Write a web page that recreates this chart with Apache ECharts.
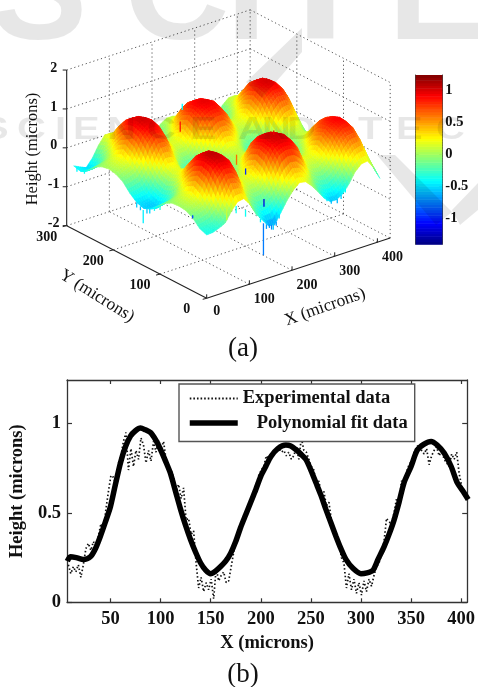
<!DOCTYPE html>
<html><head><meta charset="utf-8">
<style>html,body{margin:0;padding:0;background:#fff}#c{width:478px;height:687px}#c canvas{filter:blur(.4px)}</style>
<script src="https://cdn.jsdelivr.net/npm/echarts@6/dist/echarts.min.js"></script>
</head><body><div id="c"></div>
<script>
// ---------- surface (a): heights in microns, rows by Y, columns by X ----------
const xGrid=[0,14.5,29,43.5,58,72.5,87,101.5,116,130.5,145,159.5,174,188.5,203,217.5,232,246.5,261,275.5,290,304.5,319,333.5,348,362.5,377,391.5,406];
const yGrid=[0,15,30,45,60,75,90,105,120,135,150,165,180,195,210,225,240,255,270,285];
const heightRows=[
[-.37,-.36,-.30,-.22,.03,.22,.25,.05,-.25,-.46,-.66,-.68,-.42,-.16,.05,.19,.16,.00,-.20,-.42,-.56,-.56,-.46,-.26,.00,.15,.17,-.05,-.38],
[-.30,-.28,-.24,-.05,.26,.59,.55,.29,-.06,-.23,-.38,-.34,-.20,.05,.30,.46,.42,.22,.01,-.23,-.34,-.37,-.25,-.07,.25,.42,.47,.18,-.18],
[-.12,-.08,0,.20,.68,.86,.85,.69,.22,.01,-.12,-.10,.05,.42,.75,.83,.82,.70,.34,.03,-.10,-.13,-.01,.21,.53,.69,.71,.49,.08],
[-.02,.06,.16,.52,.89,1.02,1.01,.90,.52,.23,.08,.10,.30,.71,.93,1.00,.99,.90,.67,.26,.10,.07,.21,.47,.73,.84,.87,.70,.33],
[0,.10,.27,.62,.94,1.07,1.06,.94,.62,.32,.17,.20,.42,.78,.97,1.04,1.03,.95,.74,.35,.20,.18,.29,.61,.80,.90,.92,.77,.46],
[-.02,.06,.17,.49,.87,1.00,1.01,.88,.52,.21,.08,.08,.29,.70,.91,.98,.97,.89,.64,.26,.08,.09,.18,.50,.75,.84,.85,.72,.36],
[-.12,-.08,0,.22,.65,.83,.85,.65,.21,.01,-.14,-.10,.06,.36,.71,.81,.78,.67,.30,.03,-.11,-.11,-.03,.21,.56,.70,.73,.49,.12],
[-.28,-.28,-.24,-.06,.27,.55,.57,.26,-.06,-.25,-.36,-.36,-.18,.03,.30,.42,.46,.22,.01,-.21,-.36,-.35,-.27,-.05,.22,.44,.44,.18,-.08],
[-.45,-.48,-.44,-.26,.04,.25,.27,.03,-.24,-.45,-.56,-.56,-.38,-.17,.06,.15,.17,.00,-.19,-.43,-.54,-.57,-.45,-.27,.02,.15,.18,-.03,-.28],
[-.53,-.56,-.54,-.33,-.05,.16,.17,-.04,-.32,-.52,-.65,-.62,-.47,-.24,-.03,.07,.08,-.07,-.28,-.50,-.62,-.64,-.54,-.33,-.07,.07,.08,-.11,-.36],
[-.47,-.50,-.46,-.24,.03,.27,.25,.05,-.26,-.44,-.57,-.55,-.39,-.16,.05,.17,.15,.02,-.20,-.42,-.56,-.55,-.46,-.26,.01,.17,.16,-.02,-.28],
[-.32,-.30,-.26,-.04,.27,.57,.56,.29,-.05,-.25,-.36,-.35,-.20,.05,.29,.46,.44,.23,0,-.23,-.35,-.37,-.25,-.06,.25,.42,.47,.20,-.08],
[-.12,-.08,0,.22,.65,.83,.82,.65,.22,0,-.13,-.10,.06,.34,.66,.75,.76,.60,.29,.03,-.11,-.12,-.02,.21,.59,.75,.75,.55,.17],
[-.02,.08,.17,.50,.83,.96,.96,.84,.50,.23,.08,.09,.29,.62,.83,.91,.91,.80,.57,.26,.08,.08,.20,.49,.80,.90,.91,.76,.46],
[.02,.12,.29,.61,.90,1.03,1.02,.91,.62,.33,.16,.18,.41,.72,.90,.96,.96,.87,.67,.36,.18,.17,.30,.60,.86,.95,.95,.83,.57],
[-.02,.06,.18,.50,.85,.97,.96,.83,.52,.22,.07,.09,.29,.62,.85,.90,.90,.79,.57,.25,.09,.08,.20,.49,.80,.90,.90,.76,.47],
[-.12,-.08,-.02,.21,.64,.82,.82,.65,.21,.00,-.13,-.11,.05,.33,.65,.75,.74,.59,.27,.02,-.11,-.12,-.02,.20,.59,.74,.75,.55,.18],
[-.30,-.30,-.26,-.05,.29,.57,.57,.27,-.05,-.24,-.37,-.35,-.19,.04,.29,.44,.44,.23,0,-.22,-.35,-.36,-.26,-.06,.24,.44,.46,.20,-.07],
[-.42,-.46,-.45,-.25,.03,.26,.26,.04,-.25,-.44,-.57,-.55,-.39,-.16,.05,.16,.16,.01,-.20,-.42,-.55,-.56,-.46,-.26,.01,.16,.17,-.02,-.27],
[-.37,-.45,-.52,-.33,-.05,.16,.16,-.04,-.33,-.52,-.65,-.63,-.47,-.24,-.03,.07,.07,-.07,-.28,-.50,-.63,-.64,-.54,-.34,-.07,.07,.08,-.10,-.35]
];
// measurement spikes: position, height span, and colour value
const spikeX=[133,156,0,260,299,141,125,249,0,69,91,47,118,126,140,147,152,163,170,282,292,306,315,325,0,0,0,0,0,0,0,0,225,370];
const spikeY=[0,0,136,115,190,65,171,280,30,0,0,0,0,0,0,0,0,0,0,0,0,0,0,0,100,112,122,128,142,150,262,278,62,210];
const spikeTop=[-.55,-.63,-.58,-1.1,-.92,.78,1.03,.36,-.05,.125,-.055,.1,-.2,-.4,-.6,-.62,-.66,-.62,-.45,-.42,-.52,-.55,-.48,-.35,-.25,-.35,-.46,-.5,-.52,-.48,-.33,-.38,1.12,1.02];
const spikeBottom=[-1.37,-.8,-.92,-1.3,-1.08,.52,.77,.20,-.13,-.06,-.23,-.16,-.3,-.5,-.72,-.72,-.78,-.72,-.56,-.52,-.62,-.66,-.58,-.45,-.35,-.45,-.58,-.62,-.62,-.6,-.43,-.48,1.0,.9];
const spikeShade=[-.75,-.55,-.45,-1.15,-.95,.62,.85,-.42,-.9,-.38,-.38,.1,-.25,-.45,-.65,-.67,-.72,-.67,-.5,-.47,-.57,-.6,-.53,-.4,-.3,-.4,-.52,-.56,-.57,-.54,-.38,-.43,.95,.95];
const xTicks3D=[0,100,200,300,400];
const yTicks3D=[0,100,200,300];
const zTicks3D=[-2,-1,0,1,2];
const colorbarTicks=[-1,-.5,0,.5,1];
// ---------- profile (b) ----------
const xTicksB=[50,100,150,200,250,300,350,400];
const yTicksB=[0,.5,1];
const fitX=[7,10,16,23,30,35,40,45,50,55,60,65,70,75,80,85,90,95,100,105,110,115,120,125,130,135,140,145,150,155,160,165,170,175,180,185,190,195,200,205,210,217,225,230,235,240,245,250,255,260,265,270,275,280,285,292,300,306,312,317,323,328,333,338,343,350,356,363,370,376,383,390,396,402,407];
const fitY=[.23,.255,.25,.24,.255,.30,.37,.45,.535,.66,.78,.87,.93,.96,.975,.965,.95,.91,.855,.79,.72,.62,.52,.43,.35,.28,.22,.18,.16,.175,.20,.23,.275,.34,.42,.49,.56,.63,.705,.76,.815,.86,.88,.875,.855,.83,.80,.74,.67,.60,.52,.445,.37,.30,.24,.19,.16,.165,.18,.24,.31,.38,.46,.56,.67,.76,.85,.885,.90,.88,.835,.76,.67,.62,.575];
const expX=[8,10.5,13,15.5,18,20.5,23,25.5,28,30.5,33,35.5,38,40.5,43,45.5,48,50.5,53,55.5,58,60.5,63,65.5,68,70.5,73,75.5,78,80.5,83,85.5,88,90.5,93,95.5,98,100.5,103,105.5,108,110.5,113,115.5,118,120.5,123,125.5,128,130.5,133,135.5,138,140.5,143,145.5,148,150.5,153,155.5,158,160.5,163,165.5,168,170.5,173,175.5,178,180.5,183,185.5,188,190.5,193,195.5,198,200.5,203,205.5,208,210.5,213,215.5,218,220.5,223,225.5,228,230.5,233,235.5,238,240.5,243,245.5,248,250.5,253,255.5,258,260.5,263,265.5,268,270.5,273,275.5,278,280.5,283,285.5,288,290.5,293,295.5,298,300.5,303,305.5,308,310.5,313,315.5,318,320.5,323,325.5,328,330.5,333,335.5,338,340.5,343,345.5,348,350.5,353,355.5,358,360.5,363,365.5,368,370.5,373,375.5,378,380.5,383,385.5,388,390.5,393,395.5,398,400.5,403,405.5];
const expY=[.21,.16,.20,.17,.21,.14,.21,.30,.33,.29,.34,.31,.37,.44,.40,.52,.62,.71,.70,.66,.78,.82,.90,.95,.74,.86,.76,.85,.80,.92,.88,.78,.85,.79,.90,.84,.91,.86,.90,.80,.76,.74,.70,.62,.66,.58,.64,.46,.47,.38,.40,.22,.08,.14,.06,.11,.07,.13,.02,.19,.12,.15,.17,.11,.12,.20,.28,.33,.37,.44,.46,.50,.55,.58,.62,.66,.71,.74,.76,.82,.80,.84,.83,.85,.86,.84,.85,.82,.84,.80,.82,.87,.80,.92,.85,.84,.80,.76,.74,.65,.68,.60,.62,.54,.56,.46,.41,.36,.33,.25,.22,.08,.16,.07,.13,.05,.11,.04,.12,.06,.13,.09,.15,.20,.22,.27,.34,.47,.45,.44,.50,.58,.55,.68,.66,.73,.77,.79,.84,.87,.88,.85,.83,.86,.77,.82,.85,.87,.82,.85,.80,.78,.76,.83,.80,.84,.72,.65,.62,.60];

// ---------- view ----------
const VIEW={ox:206.7,oy:298.3,xu:.4267,xv:-.14,yu:-.4667,yv:-.2422,zv:-38.9,zFloor:-2,xMax:430,yMax:300,zMax:2};
function project(x,y,z){return [VIEW.ox+VIEW.xu*x+VIEW.yu*y, VIEW.oy+VIEW.xv*x+VIEW.yv*y+VIEW.zv*(z-VIEW.zFloor)];}
const CMIN=-1.4,CMAX=1.23;
function jet(v){
  const t=Math.max(0,Math.min(1,(v-CMIN)/(CMAX-CMIN)));
  const c=f=>Math.round(255*Math.max(0,Math.min(1,f)));
  return 'rgb('+c(1.5-Math.abs(4*t-3))+','+c(1.5-Math.abs(4*t-2))+','+c(1.5-Math.abs(4*t-1))+')';
}
const SERIF='"Liberation Serif","Times New Roman",serif';

// cells, back to front
const cells=[];
for(let j=yGrid.length-2;j>=0;j--)for(let i=xGrid.length-2;i>=0;i--)cells.push([i,j]);
const SUB=3;
function renderCell(params,api){
  const i=api.value(0),j=api.value(1);
  const x0=xGrid[i],x1=xGrid[i+1],y0=yGrid[j],y1=yGrid[j+1];
  const a=heightRows[j][i],b=heightRows[j][i+1],c=heightRows[j+1][i],d=heightRows[j+1][i+1];
  const P=(s,t)=>{const z=a*(1-s)*(1-t)+b*s*(1-t)+c*(1-s)*t+d*s*t;
    const p=project(x0+(x1-x0)*s,y0+(y1-y0)*t,z);return {xy:api.coord(p),z};};
  const children=[];
  for(let tt=SUB-1;tt>=0;tt--)for(let ss=SUB-1;ss>=0;ss--){
    const q=[P(ss/SUB,tt/SUB),P((ss+1)/SUB,tt/SUB),P((ss+1)/SUB,(tt+1)/SUB),P(ss/SUB,(tt+1)/SUB)];
    const col=jet((q[0].z+q[1].z+q[2].z+q[3].z)/4);
    children.push({type:'polygon',shape:{points:q.map(o=>o.xy)},style:{fill:col,stroke:col,lineWidth:.6}});
  }
  return {type:'group',children};
}
// box lines: [x1,y1,z1,x2,y2,z2,kind]
const XM=VIEW.xMax,YM=VIEW.yMax,ZF=VIEW.zFloor,ZM=VIEW.zMax;
const boxLines=[];
xTicks3D.forEach(x=>{ if(x>0){boxLines.push([x,0,ZF,x,YM,ZF,0]); boxLines.push([x,YM,ZF,x,YM,ZM,0]);} });
yTicks3D.forEach(y=>{ if(y>0&&y<YM){boxLines.push([0,y,ZF,XM,y,ZF,0]); boxLines.push([XM,y,ZF,XM,y,ZM,0]);} });
zTicks3D.forEach(z=>{ boxLines.push([0,YM,z,XM,YM,z,0]); boxLines.push([XM,YM,z,XM,0,z,0]); });
boxLines.push([XM,0,ZF,XM,0,ZM,0],[XM,YM,ZF,XM,YM,ZM,0]);
boxLines.push([0,0,ZF,XM,0,ZF,1],[0,0,ZF,0,YM,ZF,1],[0,YM,ZF,0,YM,ZM,1]);
function renderLine(params,api){
  const p=project(api.value(0),api.value(1),api.value(2)),q=project(api.value(3),api.value(4),api.value(5));
  const solid=api.value(6)===1, a=api.coord(p), b=api.coord(q);
  return {type:'line',shape:{x1:a[0],y1:a[1],x2:b[0],y2:b[1]},
    style:solid?{stroke:'#222',lineWidth:1.1}:{stroke:'#555',lineWidth:1,lineDash:[1.2,2.8]}};
}
// tick labels & marks in 3-D
const tick3D=[];
xTicks3D.forEach(v=>tick3D.push([v,0,ZF,String(v),v===0?10:15,v===0?13:15.5,0,-4]));
yTicks3D.forEach(v=>tick3D.push([0,v,ZF,String(v),-20,11.5,-4,1]));
zTicks3D.forEach(v=>tick3D.push([0,YM,v,String(v),-13,-2,-4,0]));
function renderTick(params,api){
  const c=api.coord(project(api.value(0),api.value(1),api.value(2)));
  return {type:'group',children:[
    {type:'line',shape:{x1:c[0],y1:c[1],x2:c[0]+api.value(6),y2:c[1]+api.value(7)},style:{stroke:'#222',lineWidth:1}},
    {type:'text',x:c[0]+api.value(4),y:c[1]+api.value(5),style:{text:tick3D[params.dataIndex][3],fill:'#111',font:'bold 14px '+SERIF,textAlign:'center',textVerticalAlign:'middle'}}
  ]};
}
function renderSpike(params,api){
  const i=params.dataIndex;
  const a=api.coord(project(spikeX[i],spikeY[i],spikeTop[i])),b=api.coord(project(spikeX[i],spikeY[i],spikeBottom[i]));
  return {type:'line',shape:{x1:a[0],y1:a[1],x2:b[0],y2:b[1]},style:{stroke:jet(spikeShade[i]),lineWidth:1.3}};
}
// colorbar
const cbSteps=[];for(let k=0;k<64;k++)cbSteps.push([k]);
function renderBar(params,api){
  const k=api.value(0),lo=CMIN+(CMAX-CMIN)*k/64,hi=CMIN+(CMAX-CMIN)*(k+1)/64;
  const a=api.coord([0,hi]),b=api.coord([1,lo]);
  return {type:'rect',shape:{x:a[0],y:a[1],width:b[0]-a[0],height:b[1]-a[1]+.5},style:{fill:jet((lo+hi)/2)}};
}
const labelB={color:'#111',fontFamily:SERIF,fontWeight:'bold',fontSize:18.5};
const WM='rgba(0,0,0,0.095)';
function wmText(t,x,y,size,sx){return {type:'text',x,y,z:100,scaleX:sx||1,silent:true,style:{text:t,fill:WM,font:'bold '+size+'px "Liberation Sans",Arial,sans-serif',textAlign:'left',textVerticalAlign:'bottom'}};}
const wmBand=[['S',-18],['C',17],['I',55],['E',73],['N',107],['C',147],['E',190],['A',238],['N',262],['D',287],['T',358],['E',396],['C',436]];
const option={
  animation:false,backgroundColor:'#fff',
  grid:[
    {left:0,top:0,width:478,height:687,show:false},
    {left:415.7,top:75,width:26.6,height:169.3,show:false},
    {left:62.5,top:380,width:409.8,height:222.3,show:false}
  ],
  xAxis:[
    {gridIndex:0,type:'value',min:0,max:478,show:false},
    {gridIndex:1,type:'value',min:0,max:1,show:false},
    {gridIndex:2,type:'value',min:6.7,max:406,position:'bottom',
      axisLine:{show:true,onZero:false,lineStyle:{color:'#333',width:1.3}},
      axisTick:{show:true,inside:true,length:4,customValues:xTicksB,lineStyle:{color:'#333',width:1.2}},
      axisLabel:{customValues:xTicksB,margin:7,hideOverlap:false,showMinLabel:true,showMaxLabel:true,...labelB},splitLine:{show:false},
      name:'X (microns)',nameLocation:'middle',nameGap:31,nameTextStyle:labelB},
    {gridIndex:2,type:'value',min:6.7,max:406,position:'top',
      axisLine:{show:true,onZero:false,lineStyle:{color:'#333',width:1.3}},
      axisTick:{show:true,inside:true,length:4,customValues:xTicksB,lineStyle:{color:'#333',width:1.2}},
      axisLabel:{show:false},splitLine:{show:false}}
  ],
  yAxis:[
    {gridIndex:0,type:'value',min:0,max:687,inverse:true,show:false},
    {gridIndex:1,type:'value',min:CMIN,max:CMAX,position:'right',
      axisLine:{show:true,onZero:false,lineStyle:{color:'#444',width:1}},
      axisTick:{show:true,inside:true,length:3,customValues:colorbarTicks,lineStyle:{color:'#222'}},
      axisLabel:{customValues:colorbarTicks,margin:3,color:'#111',fontFamily:SERIF,fontSize:14.5,fontWeight:'bold'},splitLine:{show:false}},
    {gridIndex:1,type:'value',min:CMIN,max:CMAX,position:'left',
      axisLine:{show:true,onZero:false,lineStyle:{color:'#444',width:1}},
      axisTick:{show:true,inside:true,length:3,customValues:colorbarTicks,lineStyle:{color:'#222'}},
      axisLabel:{show:false},splitLine:{show:false}},
    {gridIndex:2,type:'value',min:0,max:1.244,position:'left',
      axisLine:{show:true,onZero:false,lineStyle:{color:'#333',width:1.3}},
      axisTick:{show:true,inside:true,length:5,customValues:yTicksB,lineStyle:{color:'#333',width:1.2}},
      axisLabel:{customValues:yTicksB,margin:6,...labelB},splitLine:{show:false},
      name:'Height (microns)',nameLocation:'middle',nameGap:35,nameRotate:90,nameTextStyle:labelB},
    {gridIndex:2,type:'value',min:0,max:1.244,position:'right',
      axisLine:{show:true,onZero:false,lineStyle:{color:'#333',width:1.3}},
      axisTick:{show:true,inside:true,length:5,customValues:yTicksB,lineStyle:{color:'#333',width:1.2}},
      axisLabel:{show:false},splitLine:{show:false}}
  ],
  legend:{data:[
      {name:'Experimental data',itemStyle:{opacity:0},lineStyle:{width:2,type:[1.6,2]}},
      {name:'Polynomial fit data',itemStyle:{opacity:0},lineStyle:{width:5.5,type:'solid'}}],
    orient:'vertical',left:179,top:384,
    padding:[5,7,9,8],itemGap:5.5,itemWidth:48,itemHeight:18,backgroundColor:'#fff',borderColor:'#555',borderWidth:1.4,
    textStyle:{color:'#111',fontFamily:SERIF,fontWeight:'bold',fontSize:18.5},
    formatter:n=>n==='Polynomial fit data'?'\u00a0\u00a0\u00a0'+n:n,selectedMode:false},
  series:[
    {type:'custom',name:'box',coordinateSystem:'cartesian2d',xAxisIndex:0,yAxisIndex:0,data:boxLines,renderItem:renderLine,silent:true,z:1,clip:false,encode:{x:0,y:1}},
    {type:'custom',name:'surface',coordinateSystem:'cartesian2d',xAxisIndex:0,yAxisIndex:0,data:cells,renderItem:renderCell,silent:true,z:2,clip:false,progressive:0,encode:{x:0,y:1}},
    {type:'custom',name:'spikes',coordinateSystem:'cartesian2d',xAxisIndex:0,yAxisIndex:0,data:spikeX.map((x,i)=>[x,spikeY[i]]),renderItem:renderSpike,silent:true,z:3,clip:false,encode:{x:0,y:1}},
    {type:'custom',name:'ticks',coordinateSystem:'cartesian2d',xAxisIndex:0,yAxisIndex:0,data:tick3D.map(t=>t.slice(0,3).concat([0],t.slice(4))),renderItem:renderTick,silent:true,z:3,clip:false,encode:{x:0,y:1}},
    {type:'custom',name:'colorbar',coordinateSystem:'cartesian2d',xAxisIndex:1,yAxisIndex:1,data:cbSteps,renderItem:renderBar,silent:true,z:1,clip:false,encode:{x:0,y:0}},
    {type:'line',name:'Experimental data',xAxisIndex:2,yAxisIndex:3,data:expX.map((x,i)=>[x,expY[i]]),showSymbol:false,symbol:'none',
      lineStyle:{color:'#111',width:1.7,type:[1.5,2.3]},itemStyle:{color:'#111'},z:2},
    {type:'line',name:'Polynomial fit data',xAxisIndex:2,yAxisIndex:3,data:fitX.map((x,i)=>[x,fitY[i]]),showSymbol:false,symbol:'none',smooth:.25,
      lineStyle:{color:'#000',width:5.5},itemStyle:{color:'#000'},z:3}
  ],
  graphic:[
    {type:'text',x:33,y:149,rotation:Math.PI/2,style:{text:'Height (microns)',fill:'#111',font:'16.4px '+SERIF,textAlign:'center',textVerticalAlign:'middle'},silent:true},
    {type:'text',x:97,y:296,rotation:-32*Math.PI/180,style:{text:'Y (microns)',fill:'#111',font:'17.4px '+SERIF,textAlign:'center',textVerticalAlign:'middle'},silent:true},
    {type:'text',x:325,y:307,rotation:19.5*Math.PI/180,style:{text:'X (microns)',fill:'#111',font:'17.4px '+SERIF,textAlign:'center',textVerticalAlign:'middle'},silent:true},
    {type:'text',x:243,y:349,style:{text:'(a)',fill:'#111',font:'27px '+SERIF,textAlign:'center',textVerticalAlign:'middle'},silent:true},
    {type:'text',x:243,y:675,style:{text:'(b)',fill:'#111',font:'27px '+SERIF,textAlign:'center',textVerticalAlign:'middle'},silent:true},
    wmText('S',-10,72,146),wmText('C',124,72,146),wmText('I',226,72,146),wmText('T',265,72,146,1.24),wmText('E',388,72,146),
    ...wmBand.map(b=>wmText(b[0],b[1],146,32,1.25)),
    {type:'polygon',z:100,silent:true,shape:{points:[[302,28],[302,52],[262,98],[246,82]]},style:{fill:WM}},
    {type:'polygon',z:100,silent:true,shape:{points:[[377,155],[395,155],[452,212],[436,225]]},style:{fill:WM}},
    {type:'polygon',z:100,silent:true,shape:{points:[[452,210],[478,183],[478,210],[460,225]]},style:{fill:WM}}
  ]
};
echarts.init(document.getElementById('c'),null,{renderer:'canvas'}).setOption(option);
</script></body></html>
